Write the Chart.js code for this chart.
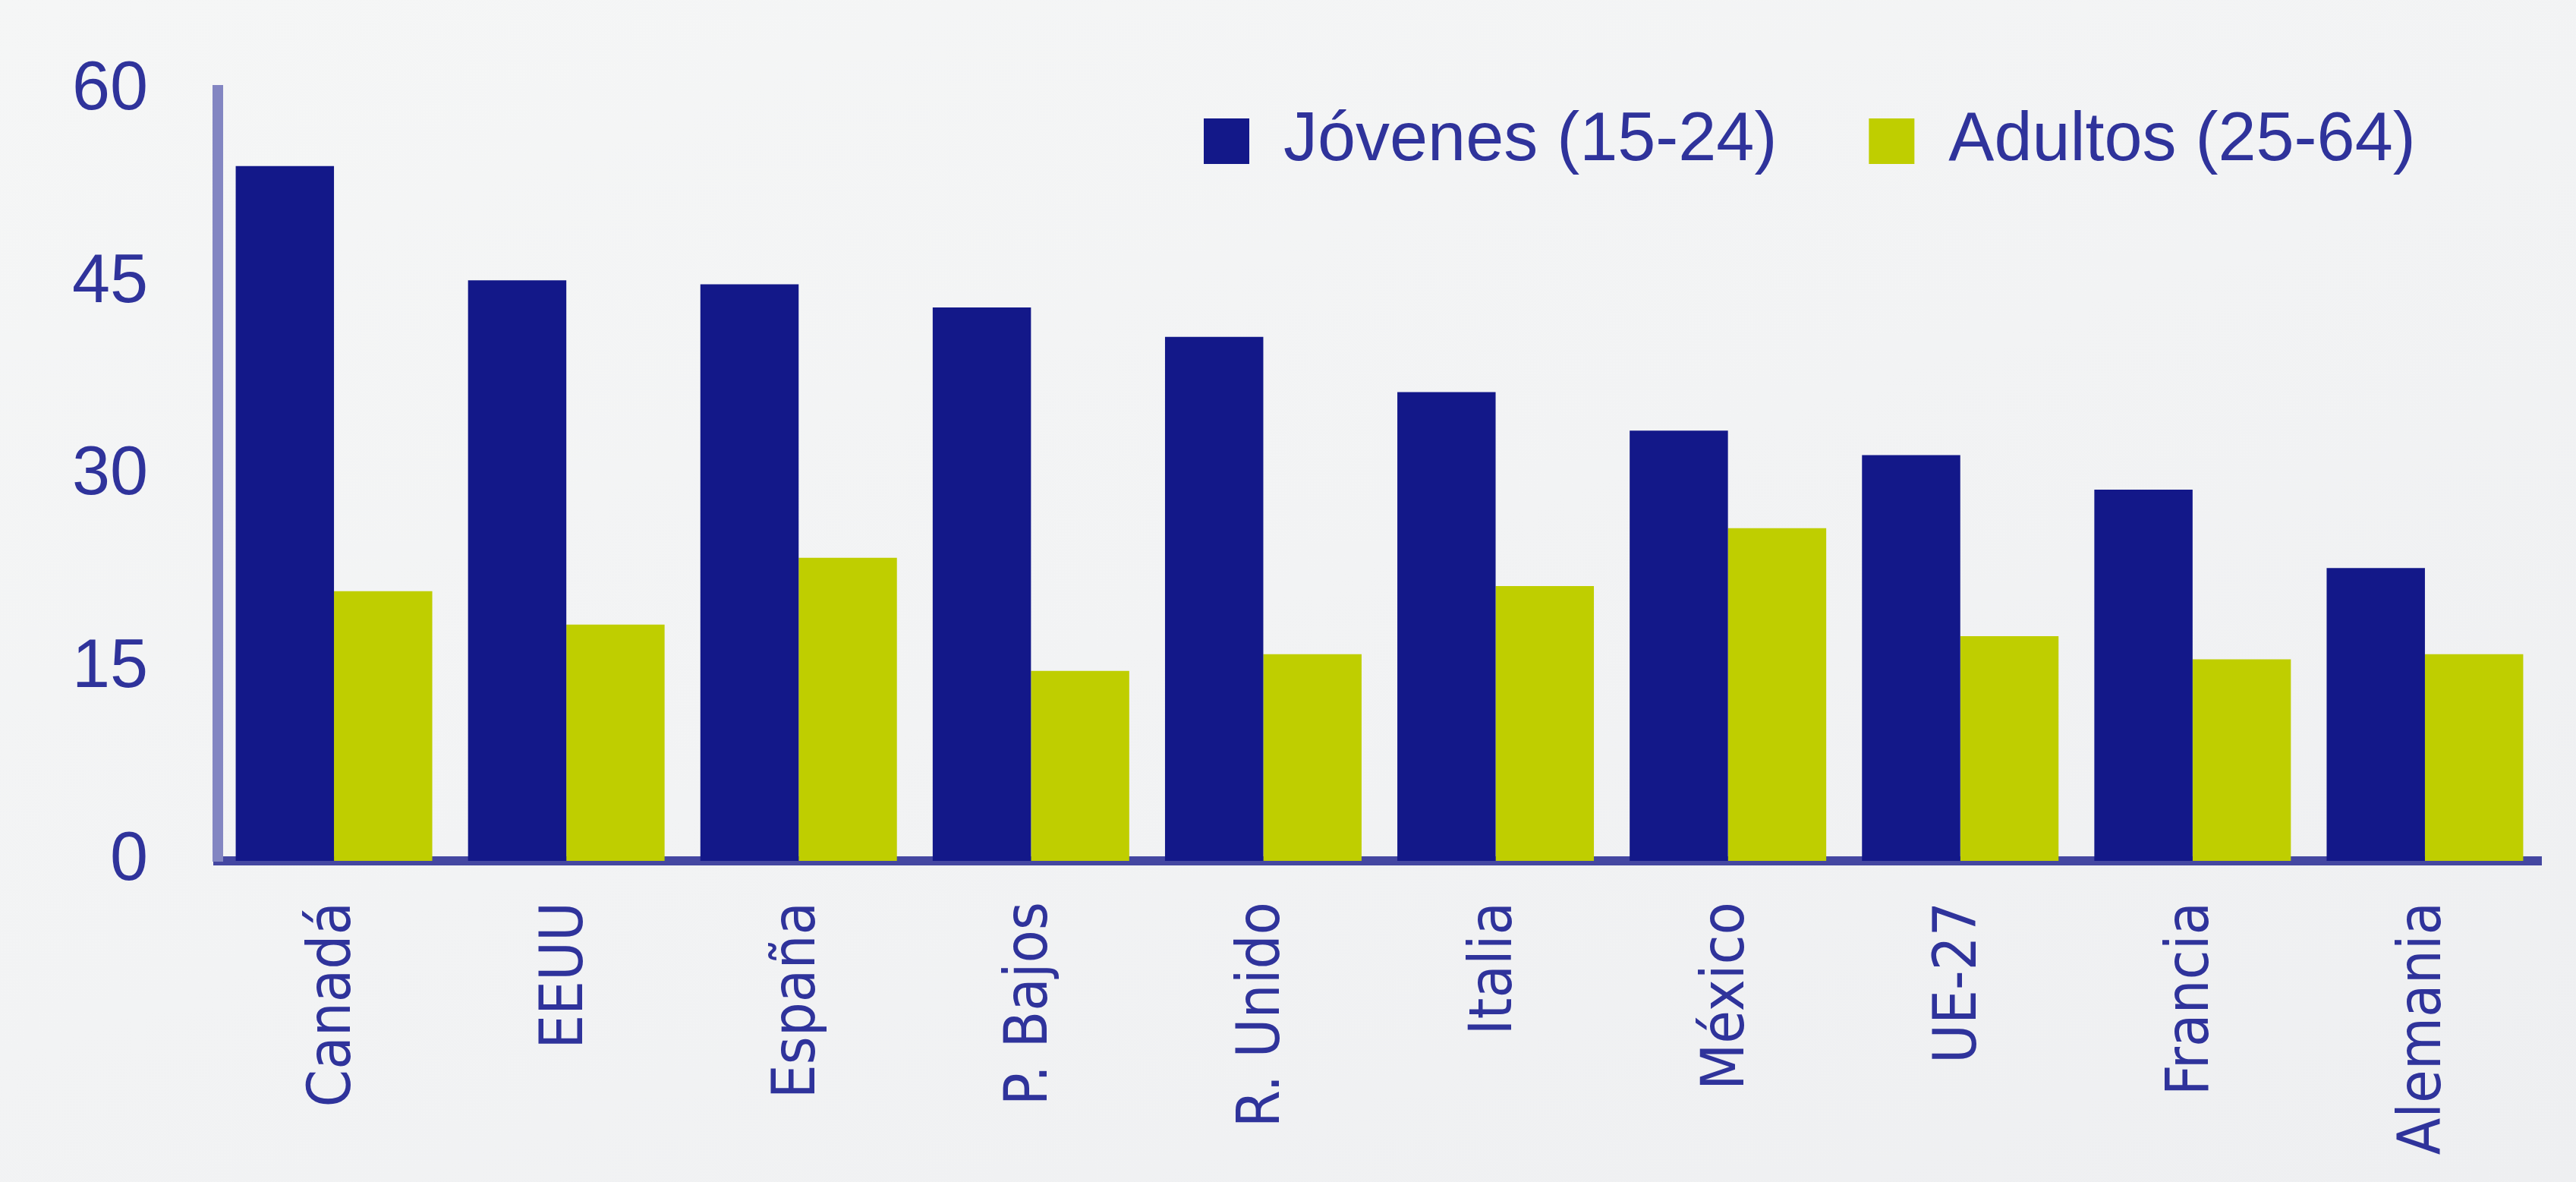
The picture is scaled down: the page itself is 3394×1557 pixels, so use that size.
<!DOCTYPE html>
<html lang="es">
<head>
	<meta charset="UTF-8">
	<title>Jóvenes y adultos</title>
	<script src="https://cdn.jsdelivr.net/npm/chart.js"></script>
	<style>
		html, body {
			margin: 0;
			padding: 0;
			background: linear-gradient(160deg, #f5f6f6 0%, #f2f3f4 50%, #eeeff1 100%);
		}

		#wrap {
			position: relative;
			width: 3394px;
			height: 1557px;
		}
	</style>
</head>
<body>
	<div id="wrap"><canvas id="chart"></canvas></div>

	<script>
		const paises = ['Canadá', 'EEUU', 'España', 'P. Bajos', 'R. Unido', 'Italia', 'México', 'UE-27', 'Francia', 'Alemania'];
		const jovenes = [54.1, 45.2, 44.9, 43.1, 40.8, 36.5, 33.5, 31.6, 28.9, 22.8];
		const adultos = [21.0, 18.4, 23.6, 14.8, 16.1, 21.4, 25.9, 17.5, 15.7, 16.1];
		const yTicks = [0, 15, 30, 45, 60];

		const textColor = '#2f339b';
		const fontFamily = "'Liberation Sans', Arial, sans-serif";
		const narrowFamily = "'DejaVu Sans Condensed', 'Liberation Sans Narrow', 'Liberation Sans', sans-serif";

		// put the legend inside the plot, top right like the original
		// (the legend clips to its own box, so give it room again)
		const legendPlace = {
			id: 'legendPlace',
			afterLayout(chart) {
				const lg = chart.legend;
				const pad = lg.options.labels.padding;
				lg.left = 1586 - pad;
				lg.top = 141 - pad;
				lg.right = chart.width;
				lg.bottom = 400;
				lg.width = lg.right - lg.left;
				lg.height = lg.bottom - lg.top;
			}
		};

		const ctx = document.getElementById('chart').getContext('2d');
		new Chart(ctx, {
			type: 'bar',
			data: {
				labels: paises,
				datasets: [{
					label: 'Jóvenes (15-24)',
					data: jovenes,
					backgroundColor: '#131889',
					borderWidth: 0
				}, {
					label: 'Adultos (25-64)',
					data: adultos,
					backgroundColor: '#bfce00',
					borderWidth: 0
				}]
			},
			options: {
				responsive: true,
				maintainAspectRatio: false,
				animation: false,
				datasets: {
					bar: {
						categoryPercentage: 0.846,
						barPercentage: 1.0
					}
				},
				layout: {
					padding: { top: 118, right: 46, bottom: 0, left: 0 }
				},
				plugins: {
					tooltip: { enabled: false },
					legend: {
						position: 'top',
						align: 'start',
						maxHeight: 1,
						labels: {
							boxWidth: 60,
							boxHeight: 60,
							padding: 121,
							color: textColor,
							font: { family: fontFamily, size: 90 }
						}
					}
				},
				scales: {
					x: {
						afterFit: function (scale) {
							scale.height = 1557 - 1134;
						},
						grid: { display: false, drawTicks: false },
						border: { display: true, color: '#4447a1', width: 12 },
						ticks: {
							color: textColor,
							font: { family: narrowFamily, size: 79 },
							minRotation: 90,
							maxRotation: 90,
							padding: 54
						}
					},
					y: {
						min: 0,
						max: 60,
						afterFit: function (scale) {
							scale.width = 287;
							scale.paddingTop = 0;
							scale.paddingBottom = 0;
						},
						afterBuildTicks: function (scale) {
							scale.ticks = yTicks.map(v => ({ value: v }));
						},
						grid: { display: false, drawTicks: false },
						border: { display: true, color: '#8386c2', width: 14 },
						ticks: {
							color: textColor,
							font: { family: fontFamily, size: 90 },
							padding: 92
						}
					}
				}
			},
			plugins: [legendPlace]
		});
	</script>
</body>
</html>
